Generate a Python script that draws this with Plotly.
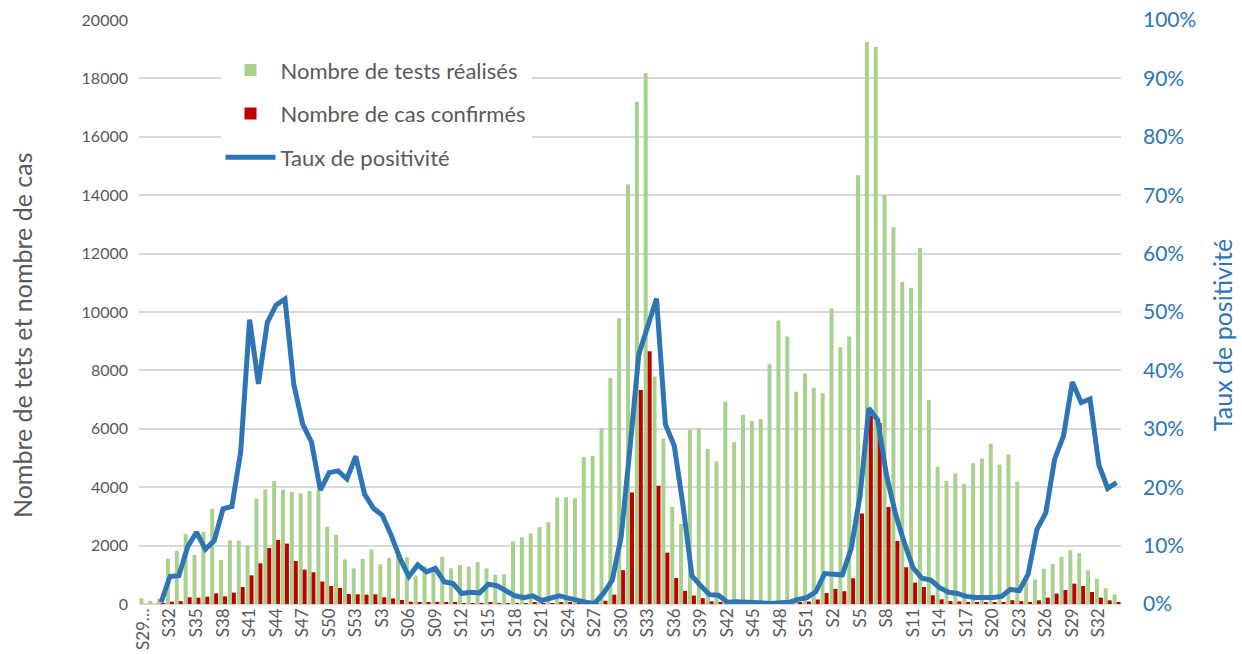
import plotly.graph_objects as go

# ---------------- data ----------------
weeks_2020 = ["S29…"] + [f"S{w}" for w in range(30, 54)]
weeks_2021 = ["S1", "S2", "S3", "S04", "S05", "S06", "S07", "S08", "S09"] + [f"S{w}" for w in range(10, 53)]
weeks_2022 = [f"S{w}" for w in range(1, 35)]
weeks = weeks_2020 + weeks_2021 + weeks_2022

tests = [
    # 2020 S29-S53
    200, 110, 180, 1550, 1820, 2400, 1680, 2470, 3260, 1510, 2180, 2170, 1990, 3610, 3920, 4210, 3910,
    3840, 3790, 3870, 3890, 2650, 2370, 1530, 1220,
    # 2021 S1-S52
    1550, 1870, 1360, 1580, 1650, 1600, 950, 1300, 1260, 1620, 1220, 1330, 1280, 1430, 1220, 1000, 1020,
    2140, 2290, 2420, 2630, 2800, 3650, 3660, 3620, 5030, 5070, 6020, 7740, 9790, 14370, 17200, 18180,
    7790, 5670, 3330, 2740, 5980, 6020, 5320, 4880, 6930, 5540, 6480, 6270, 6330, 8210, 9710, 9160,
    7270, 7900, 7410,
    # 2022 S1-S34
    7220, 10130, 8790, 9160, 14680, 19250, 19080, 14000, 12900, 11030, 10830, 12200, 6990, 4700, 4210,
    4470, 4120, 4820, 4980, 5490, 4780, 5120, 4190, 900, 840, 1210, 1370, 1620, 1840, 1740, 1160, 860,
    540, 330,
]

cases = [
    # 2020
    0, 0, 5, 80, 100, 230, 217, 250, 366, 263, 390, 583, 983, 1394, 1920, 2194, 2069, 1474, 1177, 1086,
    770, 617, 549, 343, 331,
    # 2021
    320, 331, 230, 190, 137, 80, 65, 70, 75, 60, 45, 25, 25, 27, 40, 30, 22, 30, 25, 35, 15, 30, 50, 35,
    22, 15, 5, 110, 320, 1160, 3820, 7330, 8660, 4050, 1760, 890, 450, 290, 200, 90, 70, 21, 22, 19, 6,
    6, 8, 15, 23, 58, 87, 155,
    # 2022
    375, 516, 439, 880, 3100, 6450, 6200, 3320, 2160, 1260, 730, 580, 300, 160, 100, 90, 55, 50, 50, 60,
    60, 130, 100, 50, 126, 217, 354, 480, 697, 617, 411, 217, 126, 69,
]

positivity = [
    # 2020
    None, None, 0.3, 4.7, 4.85, 9.8, 12.3, 9.4, 10.8, 16.3, 16.7, 26.1, 48.7, 37.7, 48.2, 51.2, 52.2,
    37.6, 30.8, 27.7, 19.5, 22.5, 22.8, 21.4, 25.3,
    # 2021
    18.8, 16.4, 15.2, 11.8, 7.8, 4.7, 6.7, 5.5, 6.1, 3.8, 3.5, 1.8, 2.0, 1.9, 3.4, 3.1, 2.2, 1.4, 1.1,
    1.4, 0.6, 1.1, 1.4, 1.0, 0.6, 0.3, 0.1, 1.8, 4.1, 11.5, 26.8, 42.8, 47.5, 52.3, 30.8, 27.1, 16.8,
    4.8, 3.1, 1.6, 1.5, 0.3, 0.4, 0.3, 0.1, 0.1, 0.1, 0.2, 0.3, 0.8, 1.1, 2.1,
    # 2022
    5.2, 5.1, 5.0, 9.5, 18.5, 33.5, 31.5, 22.0, 15.5, 10.5, 6.2, 4.4, 4.1, 2.8, 2.0, 1.8, 1.3, 1.1, 1.0,
    1.1, 1.3, 2.5, 2.3, 5.1, 12.8, 15.6, 24.8, 28.8, 38.0, 34.5, 35.1, 23.8, 19.8, 20.8,
]

left_ticks = list(range(0, 20001, 2000))
right_ticks = list(range(0, 101, 10))

# ---------------- figure ----------------
x = list(range(len(weeks)))
FONT = "Lato"
GRAY = "#595959"
BLUE = "#2E75B6"

fig = go.Figure()
fig.add_trace(go.Bar(x=x, y=tests, name="Nombre de tests réalisés",
                     marker=dict(color="#A9D18E", line=dict(width=0)), legendgroup="a"))
fig.add_trace(go.Bar(x=x, y=cases, name="Nombre de cas confirmés",
                     marker=dict(color="#C00000", line=dict(width=0)), legendgroup="b"))
fig.add_trace(go.Scatter(x=x, y=positivity, name="Taux de positivité", yaxis="y2",
                         mode="lines", line=dict(color=BLUE, width=5), legendgroup="c",
                         connectgaps=False))

fig.update_layout(
    width=1242, height=654,
    margin=dict(l=139, r=121, t=20, b=50, autoexpand=False),
    paper_bgcolor="white", plot_bgcolor="white",
    font=dict(family=FONT, color=GRAY, size=17),
    barmode="group", bargap=0.1, bargroupgap=0,
    showlegend=True,
    legend=dict(x=0.083, y=0.95, xanchor="left", yanchor="top",
                bgcolor="white", font=dict(size=22, color=GRAY, family=FONT),
                tracegroupgap=12, itemwidth=50, traceorder="grouped"),
    xaxis=dict(range=[-0.5, len(weeks) - 0.5], tickmode="array",
               tickvals=x[::3], ticktext=weeks[::3], tickangle=-90,
               tickfont=dict(size=17, color=GRAY), showgrid=False, zeroline=False,
               showline=False, ticks=""),
    yaxis=dict(range=[0, 20000], tickvals=left_ticks, ticktext=[str(v) for v in left_ticks],
               showgrid=True, gridcolor="#D9D9D9", gridwidth=2,
               zeroline=True, zerolinecolor="#D9D9D9", zerolinewidth=2,
               tickfont=dict(size=16, color=GRAY), ticklabelstandoff=10),
    yaxis2=dict(range=[0, 100], overlaying="y", side="right", tickvals=right_ticks,
                ticktext=[f"{v}%" for v in right_ticks], showgrid=False, zeroline=False,
                tickfont=dict(size=21, color=BLUE), ticklabelstandoff=21),
    annotations=[
        dict(text="Nombre de tets et nombre de cas", textangle=-90, showarrow=False,
             xref="paper", yref="paper", x=-0.1191, y=0.4606, xanchor="center", yanchor="middle",
             font=dict(size=25, color=GRAY, family=FONT)),
        dict(text="Taux de positivité", textangle=-90, showarrow=False,
             xref="paper", yref="paper", x=1.1029, y=0.4606, xanchor="center", yanchor="middle",
             font=dict(size=25, color=BLUE, family=FONT)),
    ],
)

fig.write_html("out.html", config={"displayModeBar": False},
               post_script="document.body.style.margin='0';document.body.style.padding='0';")
